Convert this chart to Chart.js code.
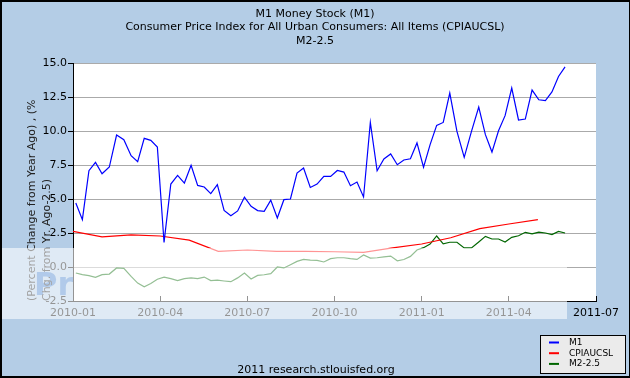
<!DOCTYPE html>
<html>
<head>
<meta charset="utf-8">
<script src="https://cdn.jsdelivr.net/npm/chart.js@4"></script>
<style>
  body { margin: 0; background: #b4cde6; }
  canvas { display: block; }
</style>
</head>
<body>
<canvas id="chart" width="630" height="378"></canvas>
<script>
// chart text
const titleLines = ['M1 Money Stock (M1)', 'Consumer Price Index for All Urban Consumers: All Items (CPIAUCSL)', 'M2-2.5'];
const yTitle = ['(Percent Change from Year Ago) , (%', 'Chg. from Yr. Ago-2.5)'];
const footer = '2011 research.stlouisfed.org';

// x ticks, one every quarter
const xTickLabels = ['2010-01', '2010-04', '2010-07', '2010-10', '2011-01', '2011-04', '2011-07'];

// weekly observations (M1 and M2-2.5)
const weekDates = [
  '2010-01-04', '2010-01-11', '2010-01-18', '2010-01-25', '2010-02-01', '2010-02-08', '2010-02-15', '2010-02-22',
  '2010-03-01', '2010-03-08', '2010-03-15', '2010-03-22', '2010-03-29', '2010-04-05', '2010-04-12', '2010-04-19',
  '2010-04-26', '2010-05-03', '2010-05-10', '2010-05-17', '2010-05-24', '2010-05-31', '2010-06-07', '2010-06-14',
  '2010-06-21', '2010-06-28', '2010-07-05', '2010-07-12', '2010-07-19', '2010-07-26', '2010-08-02', '2010-08-09',
  '2010-08-16', '2010-08-23', '2010-08-30', '2010-09-06', '2010-09-13', '2010-09-20', '2010-09-27', '2010-10-04',
  '2010-10-11', '2010-10-18', '2010-10-25', '2010-11-01', '2010-11-08', '2010-11-15', '2010-11-22', '2010-11-29',
  '2010-12-06', '2010-12-13', '2010-12-20', '2010-12-27', '2011-01-03', '2011-01-10', '2011-01-17', '2011-01-24',
  '2011-01-31', '2011-02-07', '2011-02-14', '2011-02-21', '2011-02-28', '2011-03-07', '2011-03-14', '2011-03-21',
  '2011-03-28', '2011-04-04', '2011-04-11', '2011-04-18', '2011-04-25', '2011-05-02', '2011-05-09', '2011-05-16',
  '2011-05-23', '2011-05-30'
];
const m1 = [
  4.71, 3.48, 7.08, 7.69, 6.86, 7.35, 9.70, 9.36, 8.18, 7.74, 9.46, 9.31, 8.82, 1.80, 6.10, 6.74,
  6.17, 7.47, 6.00, 5.88, 5.39, 6.05, 4.16, 3.77, 4.12, 5.13, 4.46, 4.15, 4.09, 4.92, 3.60, 4.95,
  5.00, 6.91, 7.28, 5.85, 6.10, 6.66, 6.66, 7.10, 6.98, 5.98, 6.25, 5.15, 10.63, 7.08, 7.94, 8.31,
  7.52, 7.87, 7.96, 9.12, 7.34, 9.00, 10.41, 10.63, 12.79, 9.97, 8.06, 9.97, 11.76, 9.73, 8.45, 10.02,
  11.13, 13.16, 10.81, 10.88, 13.01, 12.30, 12.23, 12.87, 14.01, 14.71
];
const m2Minus = [
  -0.44, -0.56, -0.64, -0.76, -0.56, -0.52, -0.07, -0.10, -0.69, -1.18, -1.45, -1.22, -0.90, -0.74, -0.86, -1.00,
  -0.85, -0.80, -0.86, -0.74, -1.00, -0.97, -1.03, -1.08, -0.80, -0.45, -0.88, -0.62, -0.57, -0.49, 0.00, -0.07,
  0.17, 0.41, 0.56, 0.51, 0.49, 0.37, 0.61, 0.68, 0.68, 0.61, 0.56, 0.88, 0.66, 0.68, 0.75, 0.80,
  0.46, 0.55, 0.78, 1.25, 1.42, 1.68, 2.28, 1.70, 1.82, 1.82, 1.40, 1.40, 1.84, 2.25, 2.06, 2.06,
  1.84, 2.18, 2.30, 2.55, 2.43, 2.57, 2.50, 2.38, 2.62, 2.50
];

// monthly observations (CPI)
const cpiMonths = [
  '2010-01-01', '2010-02-01', '2010-03-01', '2010-04-01', '2010-05-01', '2010-06-01', '2010-07-01', '2010-08-01',
  '2010-09-01', '2010-10-01', '2010-11-01', '2010-12-01', '2011-01-01', '2011-02-01', '2011-03-01', '2011-04-01',
  '2011-05-01'
];
const cpi = [2.62, 2.21, 2.36, 2.28, 1.98, 1.15, 1.25, 1.15, 1.15, 1.12, 1.08, 1.40, 1.69, 2.15, 2.82, 3.16, 3.48];

// date string -> months since 2010-01 (fractional)
function monthPos(s) {
  const y = +s.slice(0, 4), m = +s.slice(5, 7), d = +s.slice(8, 10);
  const dim = new Date(y, m, 0).getDate();
  return (y - 2010) * 12 + (m - 1) + (d - 1) / dim;
}
function toPoints(dates, vals) {
  return dates.map((d, i) => ({ x: monthPos(d), y: vals[i] }));
}

const bgBlue = '#b4cde6';

const decor = {
  id: 'decor',
  beforeDraw(chart) {
    const { ctx, chartArea: a } = chart;
    ctx.save();
    ctx.fillStyle = bgBlue;
    ctx.fillRect(0, 0, chart.width, chart.height);
    // watermark scrap left of the plot
    ctx.font = 'bold 32px "DejaVu Sans"';
    ctx.fillStyle = 'rgb(70,130,205)';
    ctx.textBaseline = 'alphabetic';
    ctx.fillText('Pro', 34, 295);
    ctx.fillStyle = '#ffffff';
    ctx.fillRect(a.left, a.top, a.right - a.left, a.bottom - a.top);
    ctx.restore();
  },
  afterDraw(chart) {
    const { ctx } = chart;
    ctx.save();
    // light watermark band
    ctx.fillStyle = 'rgba(255,255,255,0.58)';
    ctx.fillRect(0, 248, 567, 71);

    // titles
    ctx.fillStyle = '#000';
    ctx.font = '11px "DejaVu Sans"';
    ctx.textAlign = 'center';
    ctx.textBaseline = 'middle';
    titleLines.forEach((t, i) => ctx.fillText(t, 315, 14 + i * 13.4));
    ctx.fillText(footer, 316, 370);

    // legend
    const lx = 540, ly = 335;
    ctx.fillStyle = '#ebebeb';
    ctx.fillRect(lx, ly, 86, 39);
    ctx.strokeStyle = '#000';
    ctx.lineWidth = 1;
    ctx.strokeRect(lx + 0.5, ly + 0.5, 85, 38);
    ctx.font = '9px "DejaVu Sans"';
    ctx.textAlign = 'left';
    chart.data.datasets.forEach((ds, i) => {
      const y = ly + 7.5 + i * 10.7;
      ctx.strokeStyle = ds.borderColor;
      ctx.lineWidth = 2;
      ctx.beginPath();
      ctx.moveTo(lx + 9, y);
      ctx.lineTo(lx + 19, y);
      ctx.stroke();
      ctx.fillStyle = '#000';
      ctx.fillText(ds.label, lx + 29, y);
    });

    // frame
    ctx.fillStyle = '#000';
    ctx.fillRect(0, 0, chart.width, 2);
    ctx.fillRect(0, 0, 2, chart.height);
    ctx.fillRect(0, chart.height - 2, chart.width, 2);
    ctx.fillRect(chart.width - 1, 0, 1, chart.height);
    ctx.restore();
  }
};

const ctx = document.getElementById('chart').getContext('2d');
const chart = new Chart(ctx, {
  type: 'line',
  data: {
    datasets: [
      { label: 'M1', data: toPoints(weekDates, m1), borderColor: '#0000ff', borderWidth: 1.2 },
      { label: 'CPIAUCSL', data: toPoints(cpiMonths, cpi), borderColor: '#ff0000', borderWidth: 1.2 },
      { label: 'M2-2.5', data: toPoints(weekDates, m2Minus), borderColor: '#006600', borderWidth: 1.2 }
    ]
  },
  options: {
    responsive: false,
    animation: false,
    events: [],
    elements: { point: { radius: 0 }, line: { tension: 0 } },
    layout: { padding: { top: 63, right: 34, bottom: 57, left: 0 } },
    plugins: { legend: { display: false }, tooltip: { enabled: false }, title: { display: false } },
    scales: {
      x: {
        type: 'linear',
        min: 0,
        max: 18,
        afterFit: (s) => { s.height = 20; },
        ticks: {
          stepSize: 3,
          autoSkip: false,
          maxRotation: 0,
          padding: 11,
          color: '#000',
          font: { family: 'DejaVu Sans', size: 11 },
          callback: (v) => xTickLabels[v / 3]
        },
        grid: { drawOnChartArea: false, tickLength: -5, tickColor: '#000' },
        border: { color: '#000', width: 1 }
      },
      y: {
        min: -2.5,
        max: 15,
        afterFit: (s) => { s.width = 73; },
        ticks: {
          stepSize: 2.5,
          padding: 1,
          color: '#000',
          font: { family: 'DejaVu Sans', size: 11 },
          callback: (v) => v.toFixed(1)
        },
        grid: { color: '#aaaaaa', tickColor: '#000', tickLength: 5 },
        border: { color: '#000', width: 1 },
        title: {
          display: true,
          text: yTitle,
          align: 'start',
          color: '#222',
          font: { family: 'DejaVu Sans', size: 11, lineHeight: '15px' },
          padding: { top: 24.5, bottom: 0 }
        }
      }
    }
  },
  plugins: [decor]
});
</script>
</body>
</html>
